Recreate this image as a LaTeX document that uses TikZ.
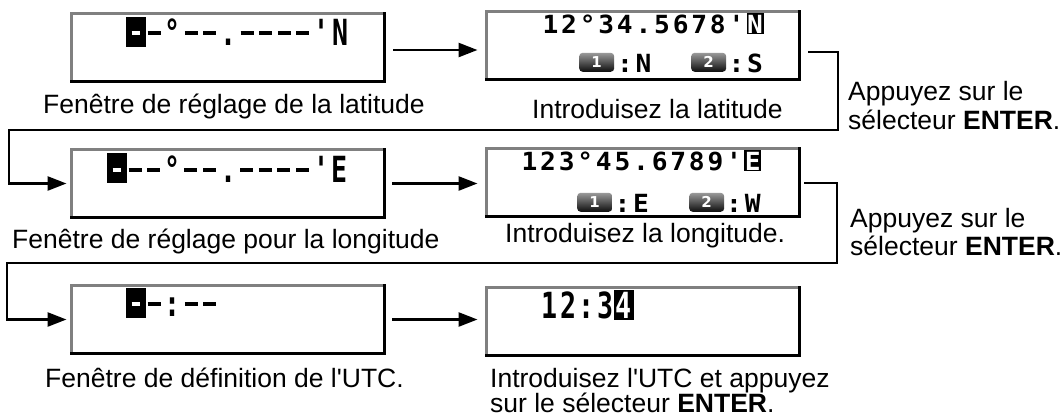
\documentclass[tikz,border=0pt]{standalone}
\usepackage{fontspec}
\setmainfont{Liberation Sans}[Ligatures=TeXOff]
\newfontfamily\lcdA{DejaVu Sans Mono}[FakeStretch=1.05]
\newfontfamily\lcdC{DejaVu Sans Mono}[FakeStretch=0.74]
\newfontfamily\keyfont{DejaVu Sans}
\usetikzlibrary{arrows.meta}
\newcommand\cc[1]{\makebox[18.6pt]{#1}}
\newcommand\dsh[2]{\rule[#1]{#2}{3.6pt}}
\newcommand\inv[4]{\makebox[18.6pt]{\rlap{\rule[-#2]{#1}{#3}}\makebox[#1]{\color{white}#4}}}
\newcommand\apos{\char"27\relax}
\newcommand\dd{\cc{\dsh{10pt}{13pt}}}
\tikzset{
  lcdbox/.style={draw=black!50, line width=3pt, fill=white, minimum width=313pt, minimum height=68pt, inner sep=0pt, outer sep=0pt, anchor=north west},
  dkedge/.style={draw=black, line width=3pt, line cap=rect},
  conn/.style={line width=2.6pt, line join=miter},
  arr/.style={conn, -{Triangle[length=19pt,width=14pt]}},
  txt/.style={anchor=base west, inner sep=0pt, font=\fontsize{26.5}{30}\selectfont},
  lcdt/.style={anchor=base west, inner sep=0pt},
  big/.style={font=\lcdC\bfseries\fontsize{36}{36}\selectfont},
  small/.style={font=\lcdA\bfseries\fontsize{25}{25}\selectfont},
  keyic/.style={rounded corners=3.5pt, top color=black!40, bottom color=black!95, minimum width=35pt, minimum height=19pt, inner sep=0pt, text=white, font=\keyfont\bfseries\fontsize{15}{15}\selectfont, anchor=south west}
}
\begin{document}
\begin{tikzpicture}[x=1pt,y=-1pt]
\useasboundingbox (0,0) rectangle (1063,416);
% boxes
\node[lcdbox] (b1) at (71.5,13.5) {};
\node[lcdbox] (b2) at (486.5,11.5) {};
\node[lcdbox] (b3) at (71.5,149.5) {};
\node[lcdbox] (b4) at (486.5,148.5) {};
\node[lcdbox] (b5) at (71.5,285.5) {};
\node[lcdbox] (b6) at (486.5,287.5) {};
\foreach \b in {b1,b2,b3,b4,b5,b6}
  \draw[dkedge] (\b.north east) -- (\b.south east) -- (\b.south west);
% display texts
\node[lcdt, big] (t1) at (126,45)
  {\inv{20pt}{2pt}{30pt}{\dsh{10pt}{8pt}}\dd\cc{°}\dd\dd\cc{.}\dd\dd\dd\dd\cc{\apos}\cc{N}};
\node[lcdt, small] (t2) at (541,33)
  {\cc1\cc2\cc{°}\cc3\cc4\cc.\cc5\cc6\cc7\cc8\cc{\apos}\inv{17pt}{1pt}{21pt}{N}};
\node[keyic] (k1) at (579,72) {1};
\node[keyic] (k2) at (691,72) {2};
\node[lcdt, small] (t2n) at (615.4,72) {\cc:\cc N};
\node[lcdt, small] (t2s) at (727,72) {\cc:\cc S};
\node[lcdt, big] (t3) at (107,182)
  {\inv{20pt}{1pt}{30pt}{\dsh{10pt}{8pt}}\dd\dd\cc{°}\dd\dd\cc{.}\dd\dd\dd\dd\cc{\apos}\cc{E}};
\node[lcdt, small] (t4) at (520,170)
  {\cc1\cc2\cc3\cc{°}\cc4\cc5\cc.\cc6\cc7\cc8\cc9\cc{\apos}\inv{17pt}{1pt}{21pt}{E}};
\node[keyic] (k3) at (577,212) {1};
\node[keyic] (k4) at (689,212) {2};
\node[lcdt, small] (t4e) at (613,212) {\cc:\cc E};
\node[lcdt, small] (t4w) at (724.6,212) {\cc:\cc W};
\node[lcdt, big] (t5) at (126,316)
  {\inv{20pt}{2pt}{30pt}{\dsh{10pt}{8pt}}\dd\cc{:}\dd\dd};
\node[lcdt, big] (t6) at (540,318)
  {\cc1\cc2\cc:\cc3\inv{20pt}{2pt}{30pt}{4}};
% captions
\node[txt] (c1) at (43,113) {Fenêtre de réglage de la latitude};
\node[txt] (c2) at (532,118) {Introduisez la latitude};
\node[txt] (r1a) at (848,100) {Appuyez sur le};
\node[txt] (r1b) at (848,129) {sélecteur \textbf{ENTER}.};
\node[txt] (c3) at (12,248) {Fenêtre de réglage pour la longitude};
\node[txt] (c4) at (505,242) {Introduisez la longitude.};
\node[txt] (r2a) at (850,227) {Appuyez sur le};
\node[txt] (r2b) at (850,255) {sélecteur \textbf{ENTER}.};
\node[txt] (c5) at (45,387) {Fenêtre de définition de l'UTC.};
\node[txt] (c6a) at (490,387) {Introduisez l'UTC et appuyez};
\node[txt] (c6b) at (490,412) {sur le sélecteur \textbf{ENTER}.};
% connectors
\coordinate (a1) at (393,50);
\coordinate (s1) at (808,52);
\coordinate (s2) at (804,183);
\draw[arr, shorten >=9pt] (a1) -- (a1 -| b2.west);
\draw[arr, shorten <=7.5pt, shorten >=9pt] (b3.east) -- (b3.east -| b4.west);
\draw[arr, shorten <=7.5pt, shorten >=9pt] (b5.east) -- (b5.east -| b6.west);
\draw[arr, shorten >=5pt] (s1) -- (838,52) -- (838,130) -- (9,130) |- (b3.west);
\draw[arr, shorten >=5pt] (s2) -- (837,183) -- (837,263) -- (7,263) |- (b5.west);
\end{tikzpicture}
\end{document}
